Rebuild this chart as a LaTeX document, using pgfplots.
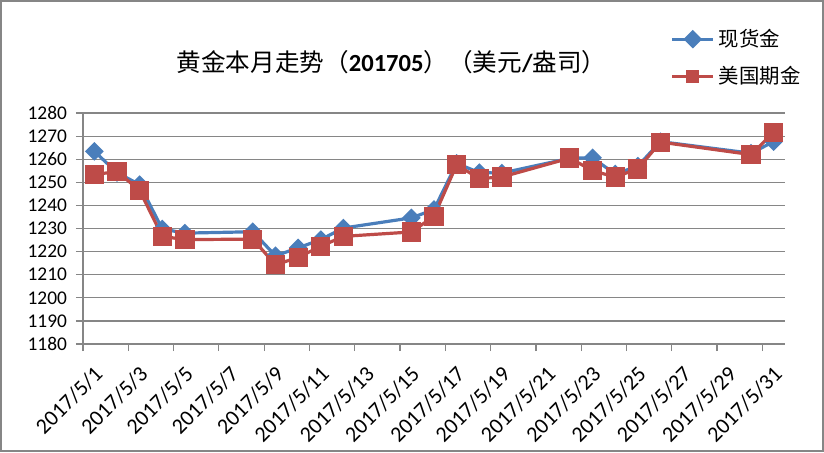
\documentclass[border=0pt]{standalone}
\usepackage{fontspec}
\setmainfont{Carlito}
\newfontfamily\cjk{Noto Sans CJK SC}
\usepackage{pgfplots}
\pgfplotsset{compat=1.18}
\usepackage{pgfplotstable}
\definecolor{sblue}{HTML}{4A7EBB}
\definecolor{sred}{HTML}{BE4B48}
\definecolor{gridgray}{HTML}{868686}

\pgfplotstableread{
day blue red
1 1263.4 1253.3
2 1254.2 1254.7
3 1249.0 1246.5
4 1229.8 1226.6
5 1228.0 1225.2
8 1228.6 1225.4
9 1218.2 1214.3
10 1221.6 1217.5
11 1225.2 1222.3
12 1230.2 1226.6
15 1234.6 1228.5
16 1238.2 1235.3
17 1258.2 1257.6
18 1254.2 1251.6
19 1254.0 1252.3
22 1260.4 1260.5
23 1260.6 1255.0
24 1253.6 1252.3
25 1257.0 1255.8
26 1267.6 1267.4
30 1262.6 1262.0
31 1267.6 1271.6
}\data

\begin{document}
\begin{tikzpicture}[x=1pt,y=1pt]
\draw[gridgray, line width=1pt, fill=white] (0.5,0.5) rectangle (411.5,225.5);
\node[font=\fontsize{12.3}{14}\selectfont] at (195.75,195) {{\cjk 黄金本月走势（}{\bfseries 201705}{\cjk ）（美元}{\bfseries /}{\cjk 盎司）}};
\begin{axis}[
  at={(41.5pt,54pt)}, anchor=south west,
  scale only axis, width=351pt, height=115.5pt,
  xmin=1, xmax=32, ymin=1180, ymax=1280,
  ytick={1180,1190,...,1280},
  xtick={1,3,...,31},
  xticklabels={2017/5/1,2017/5/3,2017/5/5,2017/5/7,2017/5/9,2017/5/11,2017/5/13,2017/5/15,2017/5/17,2017/5/19,2017/5/21,2017/5/23,2017/5/25,2017/5/27,2017/5/29,2017/5/31},
  axis x line*=bottom, axis y line*=left,
  axis line style={-, gridgray, line width=0.6pt},
  ymajorgrids, grid style={gridgray, line width=0.6pt},
  tick align=outside, major tick length=3.5pt,
  tick style={gridgray, line width=0.6pt},
  /pgf/number format/assume math mode=true,
  /pgf/number format/1000 sep={},
  yticklabel style={font=\fontsize{9.7}{11}\selectfont, xshift=-1pt},
  xticklabel style={font=\fontsize{11}{13}\selectfont, xshift=5pt, yshift=-6pt, rotate=45, anchor=north east, inner sep=0.5pt},
  legend style={at={(axis description cs:0.828,1.40)}, anchor=north west, draw=none, fill=none,
    font=\cjk\fontsize{10.2}{12}\selectfont, row sep=4.5pt},
  legend cell align=left,
  legend image code/.code={\draw[mark repeat=2,mark phase=2,mark size=2.5pt] plot coordinates {(0pt,0pt) (10.25pt,0pt) (20.5pt,0pt)};},
  clip=false,
]
\addplot[sblue, line width=1.6pt, mark=square*, mark size=2.5pt, mark options={rotate=45, solid}]
  table[x expr=\thisrow{day}+0.5, y=blue]{\data};
\addlegendentry{现货金}
\addplot[sred, line width=1.6pt, mark=square*, mark size=4pt, mark options={solid}]
  table[x expr=\thisrow{day}+0.5, y=red]{\data};
\addlegendentry{美国期金}
\end{axis}
\end{tikzpicture}
\end{document}
